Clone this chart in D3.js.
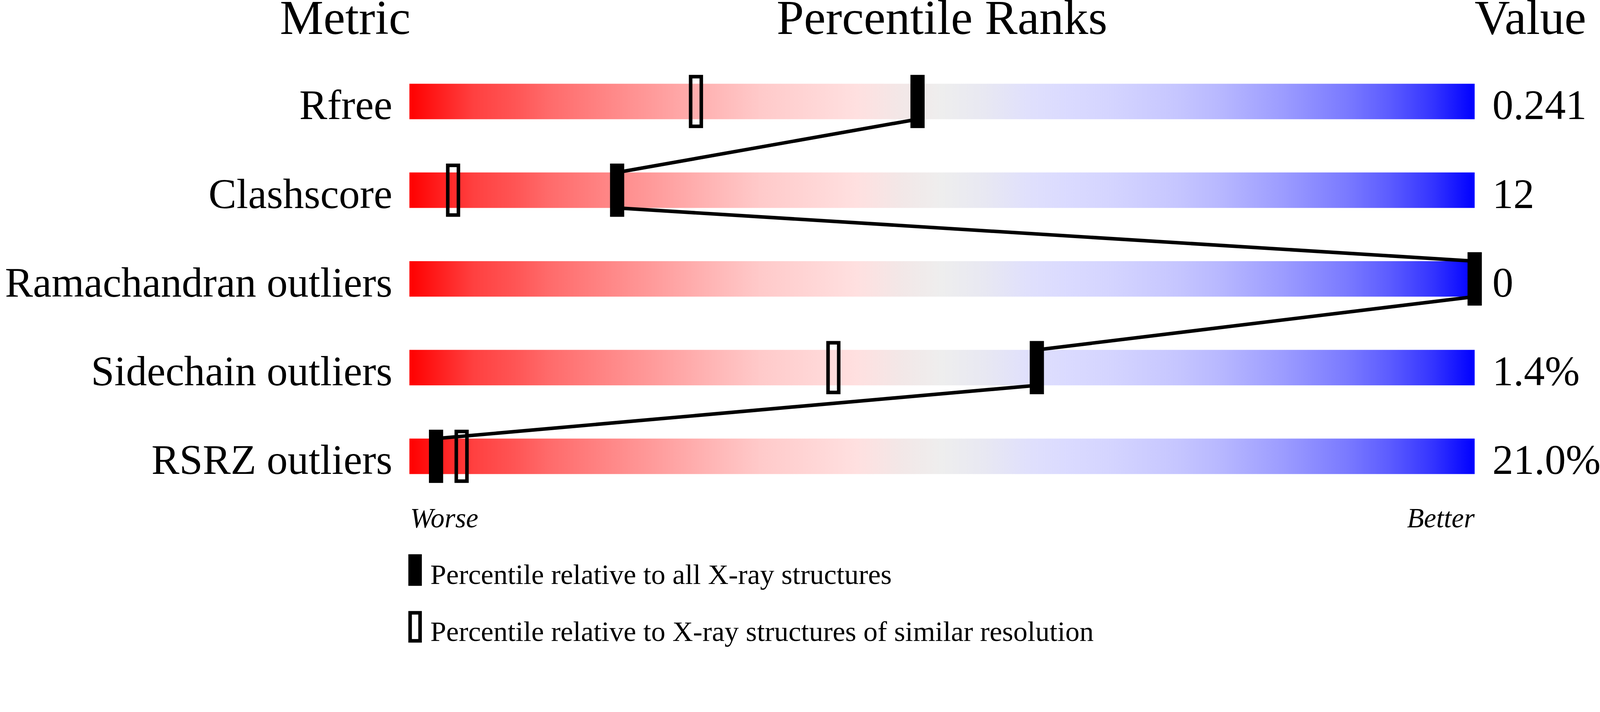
<!DOCTYPE html>
<html>
<head>
<meta charset="utf-8">
<script src="https://cdn.jsdelivr.net/npm/d3@7"></script>
<style>
  html, body { margin: 0; padding: 0; background: #fff; overflow: hidden; }
  svg { display: block; }
  text { font-family: "Liberation Serif", "Times New Roman", serif; fill: #000; }
</style>
</head>
<body>
<div id="chart"></div>
<script>
// metric rows, top to bottom
var metrics = ["Rfree", "Clashscore", "Ramachandran outliers", "Sidechain outliers", "RSRZ outliers"];
var values = ["0.241", "12", "0", "1.4%", "21.0%"];
// percentile relative to all X-ray structures (filled marker)
var pctAll = [47.7, 19.5, 100, 58.9, 2.5];
// percentile relative to structures of similar resolution (hollow marker)
var pctRes = [26.9, 4.1, 100, 39.8, 4.9];
var headers = ["Metric", "Percentile Ranks", "Value"];
var legendLabels = ["Percentile relative to all X-ray structures",
                    "Percentile relative to X-ray structures of similar resolution"];

// red -> grey -> blue ramp of the bars
var rampColors = ["#ff0000", "#ff2020", "#ff4040", "#ff5555", "#ff6a6a", "#ff8888", "#ffa5a5",
                  "#ffb8b8", "#ffcaca", "#ffd6d6", "#ffe0e0", "#f3e7e7", "#eeeeee", "#e8e8f2",
                  "#e0e0fc", "#dadaff", "#d4d4ff", "#c6c6ff", "#b8b8ff", "#9c9cff", "#7a7aff",
                  "#5c5cff", "#3535ff", "#0000ff"];
var rampStops = [0, 3, 6, 10, 13, 19, 25, 29, 33, 38, 42, 46, 50, 54, 58, 62, 66, 72, 76, 82, 88, 92, 96, 100];

var width = 4506, height = 1824;
var barLeft = 1153, barRight = 4153;

// drawn in a 4506x1824 user space, fitted to whatever the window gives
var svg = d3.select("#chart").append("svg")
    .attr("viewBox", "0 0 " + width + " " + height)
    .attr("preserveAspectRatio", "xMinYMin meet")
    .style("width", "100vw")
    .style("height", "100vh");

var x = d3.scaleLinear().domain([0, 100]).range([barLeft, barRight]);
var y = d3.scaleBand().domain(metrics).range([236, 1336]).paddingInner(0.6).paddingOuter(0);
var bw = y.bandwidth();

var grad = svg.append("defs").append("linearGradient")
    .attr("id", "ramp")
    .attr("x1", "0%").attr("x2", "100%").attr("y1", "0%").attr("y2", "0%");
grad.selectAll("stop")
  .data(rampStops)
  .enter().append("stop")
    .attr("offset", function(d) { return d + "%"; })
    .attr("stop-color", function(d, i) { return rampColors[i]; });

// headers
svg.append("text").attr("x", barLeft + 3).attr("y", 96)
    .attr("text-anchor", "end").style("font-size", "138px").text(headers[0]);
svg.append("text").attr("x", x(50)).attr("y", 96)
    .attr("text-anchor", "middle").style("font-size", "138px").text(headers[1]);
svg.append("text").attr("x", barRight).attr("y", 96)
    .attr("text-anchor", "start").style("font-size", "138px").text(headers[2]);

// bars
svg.selectAll(".bar")
  .data(metrics)
  .enter().append("rect")
    .attr("class", "bar")
    .attr("x", x(0))
    .attr("y", function(d) { return y(d); })
    .attr("width", x(100) - x(0))
    .attr("height", bw)
    .attr("fill", "url(#ramp)");

// metric names
svg.selectAll(".label")
  .data(metrics)
  .enter().append("text")
    .attr("class", "label")
    .attr("x", barLeft - 48)
    .attr("y", function(d) { return y(d) + bw; })
    .attr("text-anchor", "end")
    .style("font-size", "118px")
    .text(function(d) { return d; });

// values
svg.selectAll(".value")
  .data(values)
  .enter().append("text")
    .attr("class", "value")
    .attr("x", barRight + 50)
    .attr("y", function(d, i) { return y(metrics[i]) + bw; })
    .attr("text-anchor", "start")
    .style("font-size", "118px")
    .text(function(d) { return d; });

// hollow markers
svg.selectAll(".hollow")
  .data(pctRes)
  .enter().append("rect")
    .attr("class", "hollow")
    .attr("x", function(d) { return x(d) - 15; })
    .attr("y", function(d, i) { return y(metrics[i]) - 20; })
    .attr("width", 30)
    .attr("height", bw + 40)
    .attr("fill", "none")
    .attr("stroke", "#000")
    .attr("stroke-width", 10);

// connecting line: bottom of one bar to top of the next
var segs = d3.pairs(pctAll.map(function(p, i) { return {p: p, m: metrics[i]}; }));
svg.selectAll(".link")
  .data(segs)
  .enter().append("line")
    .attr("class", "link")
    .attr("x1", function(d) { return x(d[0].p); })
    .attr("y1", function(d) { return y(d[0].m) + bw; })
    .attr("x2", function(d) { return x(d[1].p); })
    .attr("y2", function(d) { return y(d[1].m); })
    .attr("stroke", "#000")
    .attr("stroke-width", 10);

// filled markers
svg.selectAll(".filled")
  .data(pctAll)
  .enter().append("rect")
    .attr("class", "filled")
    .attr("x", function(d) { return x(d) - 20; })
    .attr("y", function(d, i) { return y(metrics[i]) - 25; })
    .attr("width", 40)
    .attr("height", bw + 50)
    .attr("fill", "#000");

// worse / better
svg.append("text").attr("x", barLeft + 2).attr("y", 1486)
    .style("font-size", "78px").style("font-style", "italic").text("Worse");
svg.append("text").attr("x", barRight).attr("y", 1486)
    .attr("text-anchor", "end")
    .style("font-size", "78px").style("font-style", "italic").text("Better");

// legend
var leg = svg.append("g");
leg.append("rect").attr("x", 1150).attr("y", 1562).attr("width", 38).attr("height", 89).attr("fill", "#000");
leg.append("rect").attr("x", 1155).attr("y", 1727).attr("width", 28).attr("height", 79)
    .attr("fill", "none").attr("stroke", "#000").attr("stroke-width", 10);
leg.selectAll(".legtext")
  .data(legendLabels)
  .enter().append("text")
    .attr("class", "legtext")
    .attr("x", 1212)
    .attr("y", function(d, i) { return 1646 + i * 160; })
    .style("font-size", "80px")
    .text(function(d) { return d; });
</script>
</body>
</html>
